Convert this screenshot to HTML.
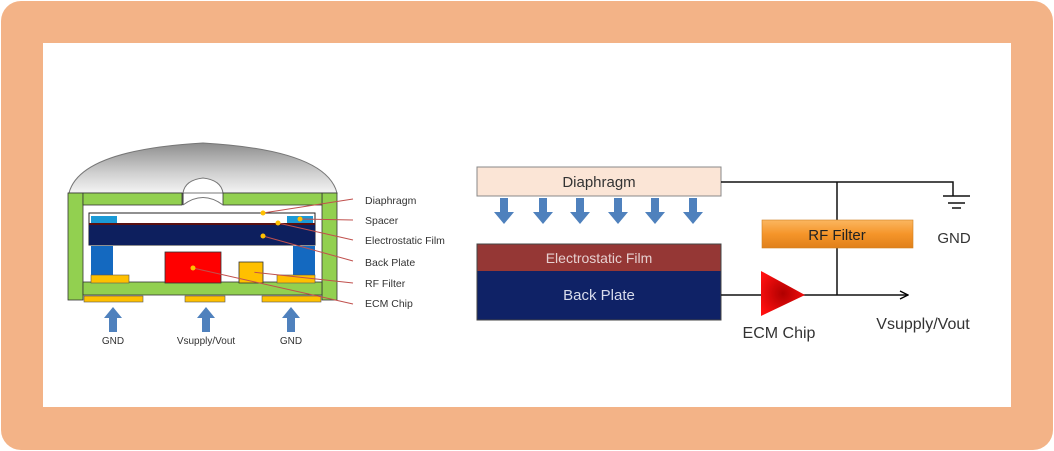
<!DOCTYPE html>
<html><head><meta charset="utf-8"><style>
html,body{margin:0;padding:0;background:#fff;width:1054px;height:451px;overflow:hidden}
svg text{font-family:"Liberation Sans",sans-serif}
</style></head><body>
<svg width="1054" height="451" viewBox="0 0 1054 451" xmlns="http://www.w3.org/2000/svg">
<defs>
<linearGradient id="dome" x1="0" y1="0" x2="0" y2="1"><stop offset="0" stop-color="#8e8e8e"/><stop offset="0.6" stop-color="#d0d0d0"/><stop offset="1" stop-color="#f4f4f4"/></linearGradient>
<linearGradient id="rf" x1="0" y1="0" x2="0" y2="1"><stop offset="0" stop-color="#fbb660"/><stop offset="0.5" stop-color="#f5952a"/><stop offset="1" stop-color="#e0801a"/></linearGradient>
<radialGradient id="tri" cx="0.5" cy="0.5" r="0.6"><stop offset="0" stop-color="#b00000"/><stop offset="1" stop-color="#ff1010"/></radialGradient>
<marker id="ah" markerWidth="10" markerHeight="10" refX="9" refY="5" orient="auto" markerUnits="userSpaceOnUse"><path d="M1,1 L9,5 L1,9" fill="none" stroke="#000" stroke-width="1.3"/></marker>
</defs>
<rect x="1" y="1" width="1052" height="449" rx="20" fill="#f3b387"/>
<rect x="43" y="43" width="968" height="364" fill="#fff"/>

<!-- left device -->
<path d="M69,193 Q80,150 203,143 Q326,150 337,193 Z" fill="url(#dome)" stroke="#777" stroke-width="1"/>
<path d="M183,193 Q185,180 203,178 Q221,180 223,193 Z" fill="#fff" stroke="#777"/>
<rect x="68" y="193" width="15" height="107" fill="#92d050" stroke="#333" stroke-width="0.8"/>
<rect x="322" y="193" width="15" height="107" fill="#92d050" stroke="#333" stroke-width="0.8"/>
<rect x="83" y="193" width="99" height="12" fill="#92d050" stroke="#333" stroke-width="0.8"/>
<path d="M183,193 L183,205" stroke="#333"/>
<rect x="223" y="193" width="99" height="12" fill="#92d050" stroke="#333" stroke-width="0.8"/>
<path d="M183,205 Q203,190 223,205" fill="#fff" stroke="#777"/>
<rect x="83" y="282" width="239" height="13" fill="#92d050" stroke="#333" stroke-width="0.8"/>
<rect x="89" y="213" width="226" height="32" fill="#fff" stroke="#222" stroke-width="1"/>
<rect x="91" y="216" width="26" height="7" fill="#1b9ad6"/>
<rect x="287" y="216" width="26" height="7" fill="#1b9ad6"/>
<rect x="89" y="223" width="226" height="2" fill="#5a1010"/>
<rect x="89" y="225" width="226" height="20" fill="#0d1f5e"/>
<rect x="91" y="246" width="22" height="31" fill="#1469c0"/>
<rect x="293" y="246" width="22" height="31" fill="#1469c0"/>
<rect x="91" y="275" width="38" height="8" fill="#ffc000" stroke="#555" stroke-width="0.6"/>
<rect x="277" y="275" width="38" height="8" fill="#ffc000" stroke="#555" stroke-width="0.6"/>
<rect x="165" y="252" width="56" height="31" fill="#ff0000" stroke="#333" stroke-width="0.8"/>
<rect x="239" y="262" width="24" height="21" fill="#ffc000" stroke="#333" stroke-width="0.8"/>
<rect x="84" y="296" width="59" height="6" fill="#ffc000" stroke="#555" stroke-width="0.6"/>
<rect x="185" y="296" width="40" height="6" fill="#ffc000" stroke="#555" stroke-width="0.6"/>
<rect x="262" y="296" width="59" height="6" fill="#ffc000" stroke="#555" stroke-width="0.6"/>
<g fill="#4f81bd">
<path d="M109,332 h8 v-14 h5 l-9,-11 l-9,11 h5z"/>
<path d="M202,332 h8 v-14 h5 l-9,-11 l-9,11 h5z"/>
<path d="M287,332 h8 v-14 h5 l-9,-11 l-9,11 h5z"/>
</g>
<g font-size="10" fill="#333" text-anchor="middle">
<text x="113" y="344">GND</text><text x="206" y="344">Vsupply/Vout</text><text x="291" y="344">GND</text>
</g>
<g stroke="#c0504d" stroke-width="1" fill="none">
<path d="M263,213 L353,199"/><path d="M300,219 L353,220"/><path d="M278,223 L353,240"/>
<path d="M263,236 L353,261"/><path d="M252,272 L353,283"/><path d="M193,268 L353,304"/>
</g>
<g fill="#ffc000"><circle cx="263" cy="213" r="2.5"/><circle cx="300" cy="219" r="2.5"/><circle cx="278" cy="223" r="2.5"/><circle cx="263" cy="236" r="2.5"/><circle cx="252" cy="272" r="2.5"/><circle cx="193" cy="268" r="2.5"/></g>
<g font-size="10.5" fill="#333">
<text x="365" y="204">Diaphragm</text><text x="365" y="224">Spacer</text><text x="365" y="244">Electrostatic Film</text>
<text x="365" y="266">Back Plate</text><text x="365" y="287">RF Filter</text><text x="365" y="307">ECM Chip</text>
</g>

<!-- right schematic -->
<rect x="477" y="167" width="244" height="29" fill="#fbe5d6" stroke="#888" stroke-width="1"/>
<text x="599" y="187" font-size="15" fill="#333" text-anchor="middle">Diaphragm</text>
<g fill="#4f81bd">
<path d="M500,198 h8 v14 h6 l-10,12 l-10,-12 h6z"/>
<path d="M539,198 h8 v14 h6 l-10,12 l-10,-12 h6z"/>
<path d="M576,198 h8 v14 h6 l-10,12 l-10,-12 h6z"/>
<path d="M614,198 h8 v14 h6 l-10,12 l-10,-12 h6z"/>
<path d="M651,198 h8 v14 h6 l-10,12 l-10,-12 h6z"/>
<path d="M689,198 h8 v14 h6 l-10,12 l-10,-12 h6z"/>
</g>
<rect x="477" y="244" width="244" height="27" fill="#953735"/>
<rect x="477" y="271" width="244" height="49" fill="#0f2266"/>
<rect x="477" y="244" width="244" height="76" fill="none" stroke="#444"/>
<text x="599" y="263" font-size="14" fill="#e6d0d0" text-anchor="middle">Electrostatic Film</text>
<text x="599" y="300" font-size="15" fill="#d8dcec" text-anchor="middle">Back Plate</text>
<g stroke="#111" stroke-width="1.5" fill="none">
<path d="M721,182 H953 V196"/>
<path d="M943,196 H970 M948,203 H965 M952,208 H961"/>
<path d="M837,182 V295"/>
<path d="M721,295 H908" marker-end="url(#ah)"/>
</g>
<rect x="762" y="220" width="151" height="28" fill="url(#rf)" stroke="#d08020" stroke-width="0.6"/>
<text x="837" y="240" font-size="15" fill="#222" text-anchor="middle">RF Filter</text>
<path d="M761,271 L805,295 L761,316 Z" fill="url(#tri)"/>
<text x="954" y="243" font-size="15" fill="#333" text-anchor="middle">GND</text>
<text x="779" y="338" font-size="16" fill="#333" text-anchor="middle">ECM Chip</text>
<text x="923" y="329" font-size="16" fill="#333" text-anchor="middle">Vsupply/Vout</text>
</svg>
</body></html>
